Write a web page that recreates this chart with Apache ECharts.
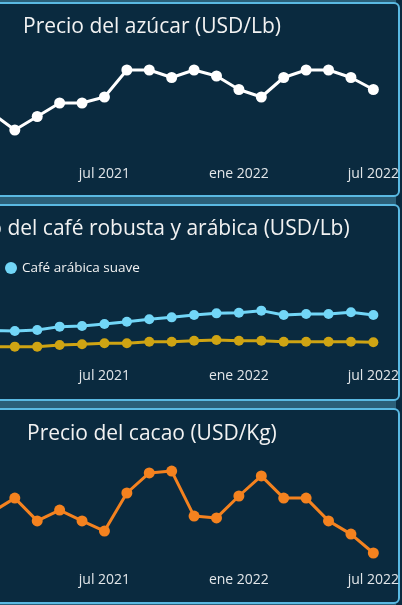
<!DOCTYPE html>
<html>
<head>
<meta charset="utf-8">
<script src="https://cdn.jsdelivr.net/npm/echarts@6/dist/echarts.min.js"></script>
<style>
  html, body { margin: 0; padding: 0; }
  body { width: 402px; height: 605px; overflow: hidden; position: relative; background: #0a2a3f; }
  .band { position: absolute; left: 0; width: 396px; background: #2b5f78; }
  .panel { position: absolute; left: -10px; width: 410px; box-sizing: border-box;
           border: 2px solid #5ab9e2; border-radius: 6px; background: #0a2a3f; }
  #main { position: absolute; left: -120px; top: 0; width: 522px; height: 605px; }
</style>
</head>
<body>
<div class="band" style="top:0;height:3px"></div>
<div class="band" style="top:196px;height:9px"></div>
<div class="band" style="top:400px;height:9px"></div>
<div class="band" style="top:602px;height:3px"></div>
<div class="panel" style="top:2px;height:195px"></div>
<div class="panel" style="top:204px;height:197px"></div>
<div class="panel" style="top:408px;height:196px"></div>
<div id="main"></div>
<script>
// months ene 2021 .. jul 2022
const months = [
  "ene 2021", "feb 2021", "mar 2021", "abr 2021", "may 2021", "jun 2021",
  "jul 2021", "ago 2021", "sep 2021", "oct 2021", "nov 2021", "dic 2021",
  "ene 2022", "feb 2022", "mar 2022", "abr 2022", "may 2022", "jun 2022", "jul 2022"
];
// azúcar USD/Lb
const sugar = [0.172, 0.171, 0.160, 0.169, 0.178, 0.178, 0.182, 0.200, 0.200, 0.195,
               0.200, 0.196, 0.187, 0.182, 0.195, 0.200, 0.200, 0.195, 0.187];
// café USD/Lb
const arabica = [1.68, 1.72, 1.69, 1.75, 1.96, 2.00, 2.13, 2.27, 2.42, 2.54,
                 2.69, 2.79, 2.83, 2.96, 2.69, 2.75, 2.75, 2.86, 2.69];
const robusta = [0.68, 0.70, 0.71, 0.71, 0.81, 0.86, 0.92, 0.92, 1.02, 1.02,
                 1.08, 1.13, 1.08, 1.08, 1.02, 1.02, 1.02, 1.02, 0.98];
// cacao USD/Kg
const cocoa = [2.450, 2.427, 2.473, 2.397, 2.433, 2.397, 2.363, 2.490, 2.557, 2.563,
               2.413, 2.407, 2.480, 2.547, 2.473, 2.473, 2.397, 2.353, 2.290];

const titles = [
  "Precio del azúcar (USD/Lb)",
  "Precio del café robusta y arábica (USD/Lb)",
  "Precio del cacao (USD/Kg)"
];
const legendNames = ["Café robusta", "Café arábica suave"];

const font = "Open Sans";
const chart = echarts.init(document.getElementById("main"));

function xAxisFor(gridIndex, margin) {
  return {
    type: "category",
    gridIndex: gridIndex,
    data: months,
    boundaryGap: false,
    axisLine: { show: false },
    axisTick: { show: false },
    splitLine: { show: false },
    axisLabel: {
      interval: (i) => i % 6 === 0,
      color: "#e2e6e9",
      fontSize: 14,
      fontFamily: font,
      margin: margin,
      hideOverlap: false
    }
  };
}

function lineSeries(name, data, color, idx, size) {
  return {
    name: name,
    type: "line",
    xAxisIndex: idx,
    yAxisIndex: idx,
    data: data,
    symbol: "circle",
    symbolSize: size,
    showSymbol: true,
    lineStyle: { color: color, width: 3 },
    itemStyle: { color: color },
    emphasis: { disabled: true },
    animation: false
  };
}

const option = {
  backgroundColor: "transparent",
  animation: false,
  title: [
    { text: titles[0], left: 138, top: 12 },
    { text: titles[1], left: 56, top: 214 },
    { text: titles[2], left: 142, top: 419 }
  ].map((t) => Object.assign(t, {
    textStyle: { color: "#f2f2f2", fontSize: 21, fontWeight: "normal", fontFamily: font }
  })),
  legend: [
    { data: [legendNames[0]], left: 15, top: 256 },
    { data: [legendNames[1]], left: 120, top: 256 }
  ].map((l) => Object.assign(l, {
    icon: "circle", itemWidth: 12, itemHeight: 12, itemGap: 10,
    textStyle: { color: "#f2f2f2", fontSize: 13.5, fontFamily: font }
  })),
  grid: [
    { left: 90, right: 27, top: 40, height: 120 },
    { left: 90, right: 27, top: 262, height: 96 },
    { left: 90, right: 27, top: 445, height: 120 }
  ],
  xAxis: [xAxisFor(0, 7), xAxisFor(1, 11), xAxisFor(2, 8)],
  yAxis: [
    { type: "value", gridIndex: 0, min: 0.14, max: 0.22, show: false },
    { type: "value", gridIndex: 1, min: 0, max: 6, show: false },
    { type: "value", gridIndex: 2, min: 2.25, max: 2.65, show: false }
  ],
  series: [
    lineSeries("Azúcar", sugar, "#ffffff", 0, 11),
    lineSeries(legendNames[0], robusta, "#cfa413", 1, 10),
    lineSeries(legendNames[1], arabica, "#72d6f7", 1, 10),
    lineSeries("Cacao", cocoa, "#f4821f", 2, 11)
  ]
};

chart.setOption(option);
</script>
</body>
</html>
